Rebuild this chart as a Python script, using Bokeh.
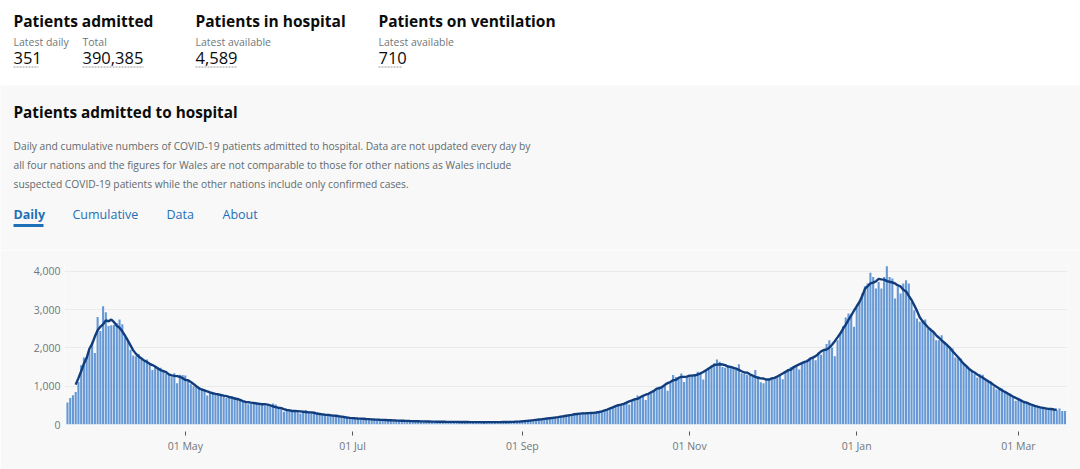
import pandas as pd
from bokeh.plotting import figure
from bokeh.models import Range1d, FixedTicker, NumeralTickFormatter, DatetimeTickFormatter
from bokeh.embed import file_html
from bokeh.resources import INLINE
from bokeh.core.properties import value

# ---------------- data ----------------
start_date = "2020-03-19"
admissions = [
    574, 690, 765, 850, 1110, 1550, 1750,
    1760, 1940, 2160, 1870, 2810, 2440, 3090,
    2930, 2570, 2590, 2600, 2650, 2740, 2620,
    2280, 2200, 1950, 1800, 1780, 1840, 1700,
    1640, 1700, 1600, 1420, 1530, 1500, 1480,
    1380, 1330, 1300, 1250, 1340, 1080, 1300,
    1290, 1280, 1150, 1050, 1000, 1020, 980,
    930, 880, 760, 830, 850, 820, 790,
    780, 760, 690, 700, 740, 720, 640,
    650, 610, 600, 530, 540, 560, 580,
    570, 560, 490, 480, 470, 550, 520,
    420, 400, 330, 380, 390, 370, 360,
    340, 290, 330, 370, 340, 310, 300,
    280, 290, 260, 220, 270, 240, 230,
    250, 210, 200, 190, 180, 170, 160,
    165, 150, 160, 145, 140, 150, 135,
    130, 125, 120, 115, 125, 110, 115,
    105, 100, 110, 95, 100, 90, 95,
    85, 90, 80, 85, 78, 82, 75,
    72, 78, 70, 74, 68, 72, 70,
    66, 70, 64, 68, 65, 70, 62,
    60, 64, 58, 62, 60, 66, 58,
    62, 58, 64, 60, 66, 62, 64,
    66, 70, 68, 72, 78, 85, 90,
    95, 105, 110, 120, 130, 140, 150,
    155, 160, 175, 180, 190, 200, 210,
    230, 245, 255, 265, 275, 280, 320,
    290, 295, 300, 290, 305, 310, 330,
    360, 390, 420, 450, 480, 510, 530,
    560, 570, 520, 620, 680, 760, 700,
    760, 640, 820, 860, 900, 930, 990,
    1010, 1050, 880, 1100, 1290, 1240, 1200,
    1330, 1110, 1250, 1280, 1300, 1290, 1375,
    1320, 1175, 1400, 1480, 1550, 1600, 1700,
    1640, 1500, 1480, 1530, 1520, 1480, 1440,
    1575, 1340, 1320, 1300, 1280, 1250, 1420,
    1260, 1100, 1080, 1150, 1180, 1210, 1240,
    1260, 1300, 1180, 1400, 1450, 1500, 1530,
    1560, 1435, 1620, 1650, 1700, 1720, 1770,
    1680, 1880, 1820, 1920, 2100, 2200, 2010,
    1784, 2200, 2375, 2567, 2793, 2897, 2880,
    2550, 3054, 3200, 3420, 3610, 3680, 3960,
    3854, 3550, 3724, 3550, 3854, 4134, 3854,
    3810, 3290, 3593, 3420, 3680, 3767, 3680,
    3200, 2984, 2767, 2680, 2720, 2740, 2505,
    2505, 2420, 2200, 2200, 2330, 2150, 2050,
    2027, 1984, 1750, 1723, 1720, 1575, 1505,
    1460, 1375, 1314, 1227, 1314, 1300, 1157,
    1131, 1120, 983, 913, 966, 940, 853,
    783, 809, 722, 618, 679, 653, 592,
    560, 531, 479, 496, 461, 444, 440,
    418, 400, 392, 390, 374, 420, 352,
    351,
]
x_tick_dates = ["2020-05-01", "2020-07-01", "2020-09-01", "2020-11-01", "2021-01-01", "2021-03-01"]
y_ticks = [0, 1000, 2000, 3000, 4000]

headline_titles = ["Patients admitted", "Patients in hospital", "Patients on ventilation"]
headline_labels = ["Latest daily", "Total", "Latest available", "Latest available"]
headline_values = ["351", "390,385", "4,589", "710"]
card_title = "Patients admitted to hospital"
card_desc = [
    "Daily and cumulative numbers of COVID-19 patients admitted to hospital. Data are not updated every day by",
    "all four nations and the figures for Wales are not comparable to those for other nations as Wales include",
    "suspected COVID-19 patients while the other nations include only confirmed cases.",
]
tabs = ["Daily", "Cumulative", "Data", "About"]

dates = pd.date_range(start_date, periods=len(admissions), freq="D")
rolling = pd.Series(admissions, dtype=float).rolling(7, center=True).mean()

# ---------------- styling ----------------
FONT = value("Open Sans")
W = 1080
H1 = 250
H2 = 219
GREY_BG = "#f8f8f8"
TXT = "#0b0c0c"
SUB = "#6f777b"
BLUE = "#1d70b8"

# ---------------- header figure (page pixel coordinates) ----------------
hdr = figure(width=W, height=H1, x_range=Range1d(0, W), y_range=Range1d(H1, 0),
             output_backend="svg", toolbar_location=None, min_border=0,
             x_axis_location=None, y_axis_location=None)
hdr.grid.visible = False
hdr.outline_line_color = None
hdr.background_fill_color = "white"
hdr.border_fill_color = "white"
hdr.quad(left=-10, right=W + 10, top=85, bottom=H1 + 10, fill_color=GREY_BG, line_color=None)

hdr.text(x=[13, 195, 378], y=[20, 20, 20], text=headline_titles, text_font=FONT,
         text_font_size="15.5px", text_font_style="bold", text_color=TXT,
         text_baseline="middle", text_align="left")
hdr.text(x=[13, 82, 195, 378], y=[41, 41, 41, 41], text=headline_labels, text_font=FONT,
         text_font_size="10.5px", text_color=SUB, text_baseline="middle", text_align="left")
hdr.text(x=[13, 82, 195, 378], y=[57, 57, 57, 57], text=headline_values, text_font=FONT,
         text_font_size="16.5px", text_color=TXT, text_baseline="middle", text_align="left")
hdr.segment(x0=[13, 82, 195, 378], y0=[66.5] * 4, x1=[38, 143, 237, 402], y1=[66.5] * 4,
            line_color="#9a9a9a", line_width=1, line_dash="2 1")

hdr.text(x=[13], y=[111], text=[card_title], text_font=FONT, text_font_size="15.3px",
         text_font_style="bold", text_color=TXT, text_baseline="middle", text_align="left")
hdr.text(x=[13, 13, 13], y=[145, 164, 183], text=card_desc, text_font=FONT,
         text_font_size="10.25px", text_color="#626a6e", text_baseline="middle", text_align="left")
hdr.text(x=[13], y=[214], text=tabs[:1], text_font=FONT, text_font_size="12.5px",
         text_font_style="bold", text_color=BLUE, text_baseline="middle", text_align="left")
hdr.text(x=[72, 166, 222], y=[214, 214, 214], text=tabs[1:], text_font=FONT,
         text_font_size="12.5px", text_color=BLUE, text_baseline="middle", text_align="left")
hdr.segment(x0=[13], y0=[225], x1=[43], y1=[225], line_color=BLUE, line_width=3)

# ---------------- chart figure ----------------
x0 = pd.Timestamp(start_date) - pd.Timedelta(hours=26)
x1 = x0 + pd.Timedelta(days=366)
p = figure(width=W, height=H2, x_axis_type="datetime",
           x_range=Range1d(x0, x1), y_range=Range1d(0, 4230),
           output_backend="svg", toolbar_location=None,
           min_border_left=64, min_border_right=13, min_border_top=12, min_border_bottom=45)
p.background_fill_color = GREY_BG
p.border_fill_color = GREY_BG
p.outline_line_color = None

p.vbar(x=dates, top=admissions, width=0.76 * 86400000, fill_color="#6598d5", line_color=None)
p.line(x=dates, y=rolling, line_color="#113d7d", line_width=2.4)

p.xgrid.visible = False
p.ygrid.grid_line_color = "#ebebeb"
p.ygrid.ticker = FixedTicker(ticks=y_ticks)

p.yaxis.ticker = FixedTicker(ticks=y_ticks)
p.yaxis.formatter = NumeralTickFormatter(format="0,0")
p.yaxis.axis_line_color = None
p.yaxis.major_tick_line_color = None
p.yaxis.minor_tick_line_color = None
p.yaxis.major_tick_out = 0
p.yaxis.major_tick_in = 0
p.yaxis.major_label_standoff = 4

tick_ms = [pd.Timestamp(d).value // 10**6 for d in x_tick_dates]
p.xaxis.ticker = FixedTicker(ticks=tick_ms)
p.xaxis.formatter = DatetimeTickFormatter(days="%d %b", months="%d %b", years="%d %b")
p.xaxis.axis_line_color = None
p.xaxis.major_tick_line_color = "#555555"
p.xaxis.minor_tick_line_color = None
p.xaxis.major_tick_in = -7
p.xaxis.major_tick_out = 11
p.xaxis.major_label_standoff = 3

for ax in (p.xaxis[0], p.yaxis[0]):
    ax.major_label_text_font = "Open Sans"
    ax.major_label_text_font_size = "10.5px"
    ax.major_label_text_color = "#6f777b"

open("out.html", "w").write(file_html([hdr, p], INLINE))
